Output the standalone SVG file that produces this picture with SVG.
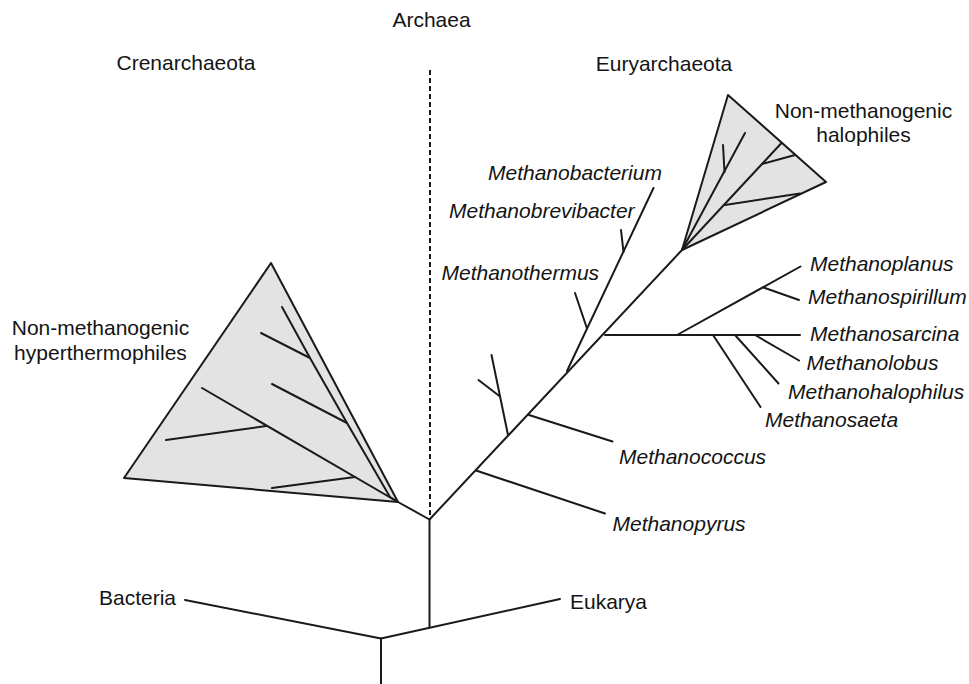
<svg xmlns="http://www.w3.org/2000/svg" width="969" height="684" viewBox="0 0 969 684">
<style>
  .bg { fill: #ffffff; }
  .ln { fill: none; stroke: #1a1a1a; stroke-width: 2; stroke-linecap: round; stroke-linejoin: round; }
  .dash { fill: none; stroke: #1a1a1a; stroke-width: 2; stroke-dasharray: 5 3; }
  .clade { fill: #e3e3e3; stroke: #1a1a1a; stroke-width: 2; stroke-linejoin: round; }
  .lbl { font-family: "Liberation Sans", Arial, Helvetica, sans-serif; font-size: 21px; fill: #141414; }
  .sp { font-family: "Liberation Sans", Arial, Helvetica, sans-serif; font-size: 21px; font-style: italic; fill: #141414; }
</style>
<rect class="bg" x="0" y="0" width="969" height="684"/>

<g id="header-archaea"><text class="lbl" x="431.5" y="27" text-anchor="middle">Archaea</text></g>
<g id="header-crenarchaeota"><text class="lbl" x="186" y="70" text-anchor="middle">Crenarchaeota</text></g>
<g id="header-euryarchaeota"><text class="lbl" x="664" y="71" text-anchor="middle">Euryarchaeota</text></g>

<g id="clade-hyperthermophiles">
  <polygon class="clade" points="271,263 124,478 398,502"/>
  <polyline class="ln" points="282,307 310,358 347,423 390,497 398,502"/>
  <line class="ln" x1="261" y1="333" x2="310" y2="358"/>
  <line class="ln" x1="272" y1="384" x2="347" y2="423"/>
  <line class="ln" x1="202" y1="388" x2="398" y2="502"/>
  <line class="ln" x1="166" y1="440" x2="266" y2="426"/>
  <line class="ln" x1="272" y1="488" x2="355" y2="477"/>
  <text class="lbl" x="100.5" y="335" text-anchor="middle">Non-methanogenic</text>
  <text class="lbl" x="100.5" y="360" text-anchor="middle">hyperthermophiles</text>
</g>

<g id="clade-halophiles">
  <polygon class="clade" points="728,95 826,182 682,250"/>
  <line class="ln" x1="682" y1="250" x2="745" y2="133"/>
  <line class="ln" x1="723" y1="145" x2="724.5" y2="172"/>
  <polyline class="ln" points="682,250 762,164 781.5,143"/>
  <line class="ln" x1="762" y1="164" x2="795" y2="155"/>
  <line class="ln" x1="725" y1="205" x2="800" y2="193.5"/>
  <text class="lbl" x="863.5" y="118" text-anchor="middle">Non-methanogenic</text>
  <text class="lbl" x="863.5" y="142" text-anchor="middle">halophiles</text>
</g>

<g id="connectors">
  <line class="dash" x1="430" y1="70" x2="430" y2="518"/>
  <line class="ln" x1="398" y1="502" x2="429.5" y2="519.5"/>
  <line class="ln" x1="429.5" y1="519.5" x2="682" y2="250"/>
  <line class="ln" x1="429.5" y1="519.5" x2="429.5" y2="627.5"/>
  <line class="ln" x1="185" y1="600" x2="381" y2="638.5"/>
  <line class="ln" x1="381" y1="638.5" x2="560" y2="599"/>
  <line class="ln" x1="381" y1="638.5" x2="381" y2="684"/>
  <line class="ln" x1="567" y1="371" x2="653.5" y2="188"/>
  <line class="ln" x1="621" y1="230" x2="623.5" y2="252"/>
  <line class="ln" x1="575" y1="293" x2="587" y2="328.5"/>
  <line class="ln" x1="605" y1="335" x2="800" y2="335"/>
  <line class="ln" x1="677" y1="335" x2="800.5" y2="266.5"/>
  <line class="ln" x1="763.5" y1="287.5" x2="799" y2="300"/>
  <line class="ln" x1="755" y1="335" x2="799" y2="360.5"/>
  <line class="ln" x1="735" y1="335" x2="778.5" y2="383.5"/>
  <line class="ln" x1="713" y1="335" x2="760.5" y2="407"/>
  <line class="ln" x1="529" y1="415" x2="612.5" y2="441.5"/>
  <line class="ln" x1="476" y1="470.5" x2="605" y2="513.5"/>
  <line class="ln" x1="508" y1="435" x2="491.5" y2="355"/>
  <line class="ln" x1="478.5" y1="380" x2="500" y2="396.5"/>
</g>

<g id="node-bacteria"><text class="lbl" x="99" y="605">Bacteria</text></g>
<g id="node-eukarya"><text class="lbl" x="570" y="609">Eukarya</text></g>
<g id="node-methanobacterium"><text class="sp" x="488" y="180">Methanobacterium</text></g>
<g id="node-methanobrevibacter"><text class="sp" x="449" y="218">Methanobrevibacter</text></g>
<g id="node-methanothermus"><text class="sp" x="441.5" y="280">Methanothermus</text></g>
<g id="node-methanoplanus"><text class="sp" x="810" y="271">Methanoplanus</text></g>
<g id="node-methanospirillum"><text class="sp" x="808" y="304">Methanospirillum</text></g>
<g id="node-methanosarcina"><text class="sp" x="810" y="341">Methanosarcina</text></g>
<g id="node-methanolobus"><text class="sp" x="806.5" y="369.5">Methanolobus</text></g>
<g id="node-methanohalophilus"><text class="sp" x="788" y="398.5">Methanohalophilus</text></g>
<g id="node-methanosaeta"><text class="sp" x="765" y="427">Methanosaeta</text></g>
<g id="node-methanococcus"><text class="sp" x="619" y="463.5">Methanococcus</text></g>
<g id="node-methanopyrus"><text class="sp" x="612.5" y="530.5">Methanopyrus</text></g>
</svg>
